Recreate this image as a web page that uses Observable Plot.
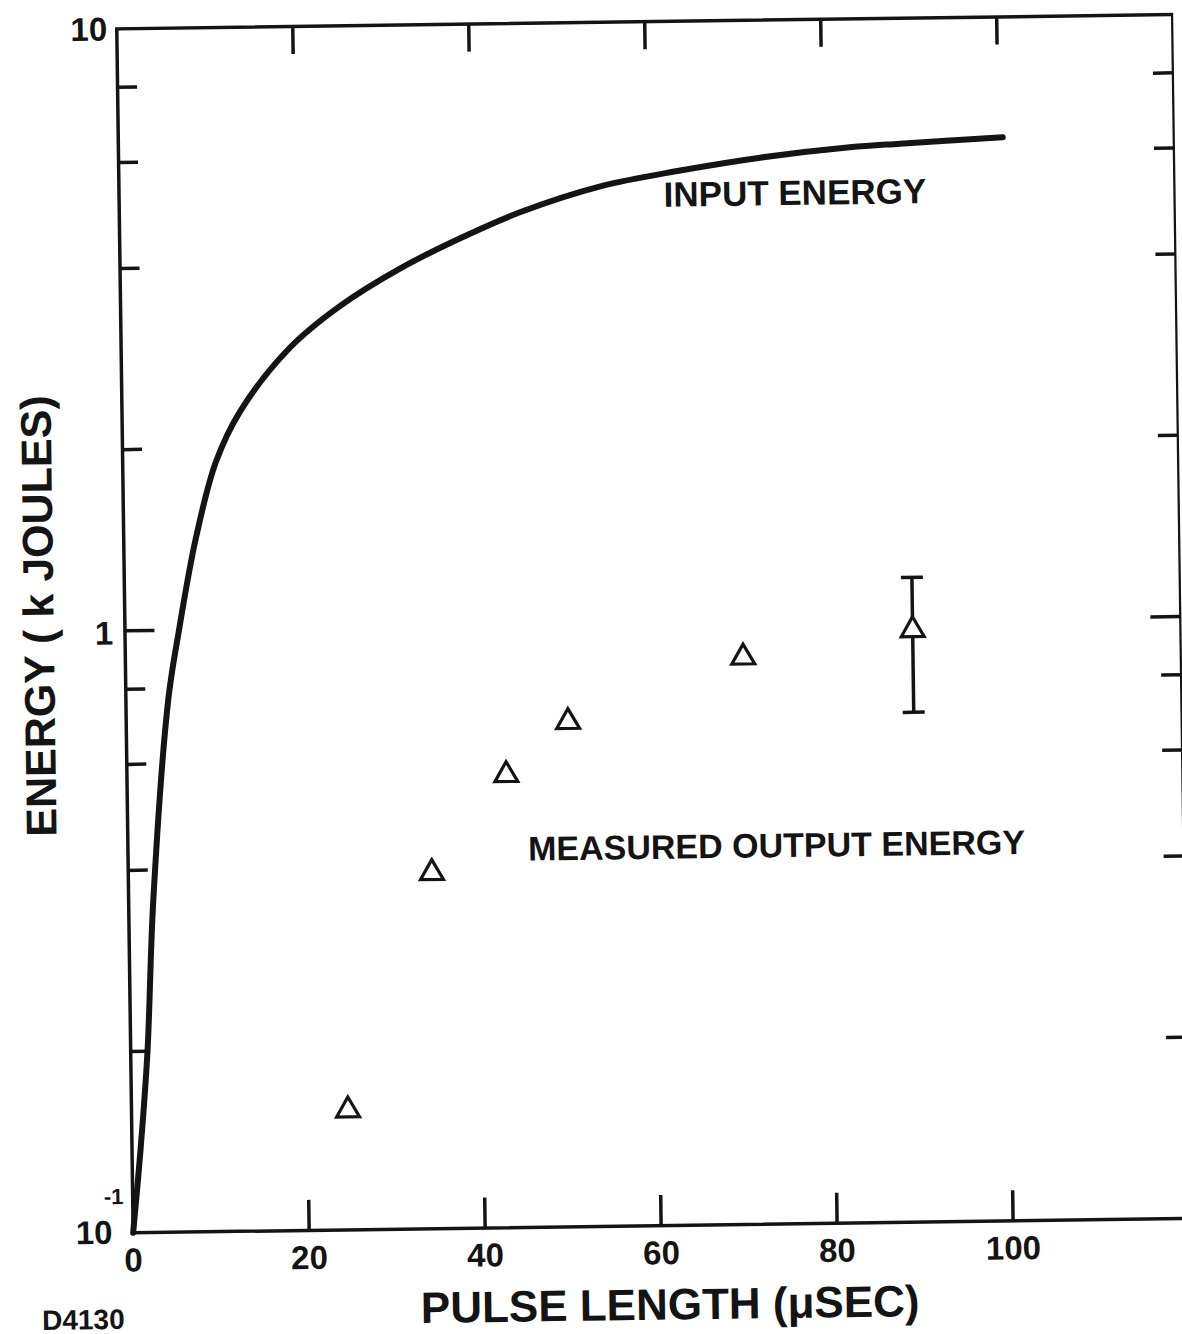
<!DOCTYPE html>
<html><head><meta charset="utf-8">
<script src="https://cdn.jsdelivr.net/npm/d3@7"></script>
<script src="https://cdn.jsdelivr.net/npm/@observablehq/plot@0.6"></script>
<style>html,body{margin:0;padding:0;background:#fff;overflow:hidden}</style>
</head><body><div id="chart"></div>
<script>
// Input energy curve (pulse length in µs, energy in kJ)
const inputT = [0, 0.96, 1.9, 2.8, 4.8, 6.07, 8.2, 10.6, 13.5, 19.2, 25.0, 31.8, 38.7, 45.6, 54.7, 63.8, 72.9, 83.1, 88.8, 100.5];
const inputE = [0.1, 0.137, 0.199, 0.356, 0.764, 0.987, 1.42, 1.90, 2.31, 2.93, 3.43, 3.94, 4.41, 4.86, 5.34, 5.65, 5.91, 6.12, 6.19, 6.31];
// Measured output energy
const measuredT = [24.6, 34.5, 43.1, 50.2, 70.2, 89.5];
const measuredE = [0.158, 0.39, 0.565, 0.69, 0.875, 0.963];
// Error bar on the last point
const errT = [89.5];
const errLow = [0.703];
const errHigh = [1.178];
// Ticks
const xTicks = [20, 40, 60, 80, 100];
const xTickLabels = [0, 20, 40, 60, 80, 100];
const yMinorTicks = [8, 6, 4, 2, 0.8, 0.6, 0.4, 0.2];
const yMajorTicks = [1];

const curve = inputT.map((t, i) => ({t, e: inputE[i]}));
const measured = measuredT.map((t, i) => ({t, e: measuredE[i]}));
const errs = errT.map((t, i) => ({t, lo: errLow[i], hi: errHigh[i]}));

const W = 1182, H = 1334, mL = 125, mR = 1, mT = 22, mB = 108;
const innerW = W - mL - mR, innerH = H - mT - mB;
const ink = "#141414";
const font = "Liberation Sans, Arial, sans-serif";
const cap = {draw(ctx) { ctx.moveTo(-11, 0); ctx.lineTo(11, 0); }};

const svg = Plot.plot({
  width: W, height: H,
  marginLeft: mL, marginRight: mR, marginTop: mT, marginBottom: mB,
  x: {domain: [0, 120], axis: null},
  y: {type: "log", domain: [0.1, 10], axis: null},
  style: {background: "#fff", transform: "rotate(-0.78deg)", transformOrigin: "591px 667px", maxWidth: "none"},
  marks: [
    Plot.frame({stroke: ink, strokeWidth: 3.5}),
    Plot.ruleX(xTicks, {insetTop: innerH - 30, stroke: ink, strokeWidth: 3.5}),
    Plot.ruleX(xTicks, {insetBottom: innerH - 28, stroke: ink, strokeWidth: 3.5}),
    Plot.ruleY(yMinorTicks, {insetRight: innerW - 20, stroke: ink, strokeWidth: 3.5}),
    Plot.ruleY(yMajorTicks, {insetRight: innerW - 30, stroke: ink, strokeWidth: 3.5}),
    Plot.ruleY(yMinorTicks, {insetLeft: innerW - 20, stroke: ink, strokeWidth: 3.5}),
    Plot.ruleY(yMajorTicks, {insetLeft: innerW - 30, stroke: ink, strokeWidth: 3.5}),
    Plot.line(curve, {x: "t", y: "e", curve: "catmull-rom", stroke: ink, strokeWidth: 6}),
    Plot.ruleX(errs, {x: "t", y1: "lo", y2: "hi", stroke: ink, strokeWidth: 3.5}),
    Plot.dot(errs, {x: "t", y: "lo", symbol: cap, fill: "none", stroke: ink, strokeWidth: 3.5}),
    Plot.dot(errs, {x: "t", y: "hi", symbol: cap, fill: "none", stroke: ink, strokeWidth: 3.5}),
    Plot.dot(measured, {x: "t", y: "e", symbol: "triangle", r: 8.5, fill: "#fff", stroke: ink, strokeWidth: 3.2}),
    // annotations
    Plot.text(["INPUT ENERGY"], {x: 76.8, y: 5.14, text: d => d, textAnchor: "middle", lineAnchor: "middle", fontSize: 35, fontWeight: "bold", fontFamily: font, fill: ink}),
    Plot.text(["MEASURED OUTPUT ENERGY"], {x: 73.7, y: 0.424, text: d => d, textAnchor: "middle", lineAnchor: "middle", fontSize: 34, fontWeight: "bold", fontFamily: font, fill: ink}),
    // tick labels
    Plot.text(xTickLabels, {x: d => d, text: d => String(d), frameAnchor: "bottom", dy: 28, textAnchor: "middle", lineAnchor: "middle", fontSize: 33, fontWeight: "bold", fontFamily: font, fill: ink}),
    Plot.text([10], {y: d => d, text: d => "10", frameAnchor: "left", dx: -28, dy: 1, textAnchor: "middle", lineAnchor: "middle", fontSize: 33, fontWeight: "bold", fontFamily: font, fill: ink}),
    Plot.text([1], {y: d => d, text: d => "1", frameAnchor: "left", dx: -21, dy: 3, textAnchor: "middle", lineAnchor: "middle", fontSize: 33, fontWeight: "bold", fontFamily: font, fill: ink}),
    Plot.text([0.1], {y: d => d, text: d => "10", frameAnchor: "left", dx: -39, dy: 0, textAnchor: "middle", lineAnchor: "middle", fontSize: 33, fontWeight: "bold", fontFamily: font, fill: ink}),
    Plot.text([0.1], {y: d => d, text: d => "-1", frameAnchor: "left", dx: -19, dy: -36, textAnchor: "middle", lineAnchor: "middle", fontSize: 22, fontWeight: "bold", fontFamily: font, fill: ink}),
    // axis titles
    Plot.text(["PULSE LENGTH (μSEC)"], {text: d => d, frameAnchor: "bottom", dx: 8, dy: 80, textAnchor: "middle", lineAnchor: "middle", fontSize: 44, fontWeight: "bold", fontFamily: font, fill: ink}),
    Plot.text(["ENERGY ( k JOULES)"], {text: d => d, frameAnchor: "left", rotate: -90, dx: -85, dy: -16, textAnchor: "middle", lineAnchor: "middle", fontSize: 43, fontWeight: "bold", fontFamily: font, fill: ink}),
    Plot.text(["D4130"], {text: d => d, frameAnchor: "bottom-left", dx: -51, dy: 87, textAnchor: "middle", lineAnchor: "middle", fontSize: 28, fontWeight: "bold", fontFamily: font, fill: ink})
  ]
});
document.getElementById("chart").append(svg);
</script>
</body></html>
